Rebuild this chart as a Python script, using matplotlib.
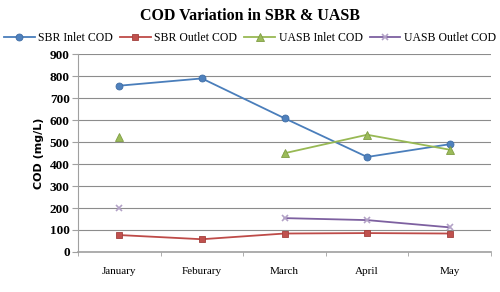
import numpy as np
import matplotlib
matplotlib.use('Agg')
import matplotlib.pyplot as plt

months = ['January', 'Feburary', 'March', 'April', 'May']
sbr_inlet = [756, 789, 608, 432, 490]
sbr_outlet = [77, 58, 84, 86, 84]
uasb_inlet = [521, np.nan, 449, 533, 465]
uasb_outlet = [200, np.nan, 154, 145, 112]

fig = plt.figure(figsize=(5, 2.92), dpi=100)
ax = fig.add_axes([0.156, 0.137, 0.826, 0.678])

x = np.arange(len(months))
ax.plot(x, sbr_inlet, color='#4A7EBB', marker='o', markersize=5,
        markerfacecolor='#4F81BD', markeredgecolor='#3F6DA5', mew=0.6, lw=1.3,
        label='SBR Inlet COD')
ax.plot(x, sbr_outlet, color='#BE4B48', marker='s', markersize=5,
        markerfacecolor='#C0504D', markeredgecolor='#A23F3C', mew=0.6, lw=1.3,
        label='SBR Outlet COD')
ax.plot(x, uasb_inlet, color='#98B954', marker='^', markersize=6,
        markerfacecolor='#9BBB59', markeredgecolor='#7F9D44', mew=0.6, lw=1.3,
        label='UASB Inlet COD')
ax.plot(x, uasb_outlet, color='#7D60A0', marker='x', markersize=5,
        markeredgecolor='#B3A2C7', mew=1.2, lw=1.3,
        label='UASB Outlet COD')

ax.set_xlim(-0.5, 4.5)
ax.set_ylim(0, 900)
ax.set_yticks(range(0, 1000, 100))
ax.set_xticks(x)
ax.set_xticklabels(months, family='Liberation Serif', fontsize=8)
ax.set_xticks(np.arange(-0.5, 5, 1), minor=True)
ax.tick_params(axis='x', which='major', length=0, pad=11)
ax.tick_params(axis='x', which='minor', length=3, color='#A0A0A0')
ax.tick_params(axis='y', length=4, color='#A0A0A0', pad=2)
for lab in ax.get_yticklabels():
    lab.set_family('Liberation Serif')
    lab.set_fontweight('bold')
    lab.set_fontsize(9.5)

ax.yaxis.grid(True, color='#8C8C8C', lw=0.8)
ax.set_axisbelow(True)
for s in ['top', 'right']:
    ax.spines[s].set_visible(False)
ax.spines['left'].set_color('#A0A0A0')
ax.spines['bottom'].set_color('#A0A0A0')
ax.spines['bottom'].set_linewidth(1.2)

ax.set_ylabel('COD (mg/L)', family='DejaVu Sans', fontweight='bold',
              fontsize=8, labelpad=4)

fig.text(0.5, 0.945, 'COD Variation in SBR & UASB', ha='center', va='center',
         family='Liberation Serif', fontweight='bold', fontsize=11.5)
fig.legend(loc='center', bbox_to_anchor=(0.5, 0.87), ncol=4, frameon=False,
           prop={'family': 'Liberation Serif', 'size': 8.5},
           handlelength=2.6, columnspacing=0.6, handletextpad=0.3,
           borderaxespad=0, borderpad=0)

fig.savefig('out.png', dpi=100)
